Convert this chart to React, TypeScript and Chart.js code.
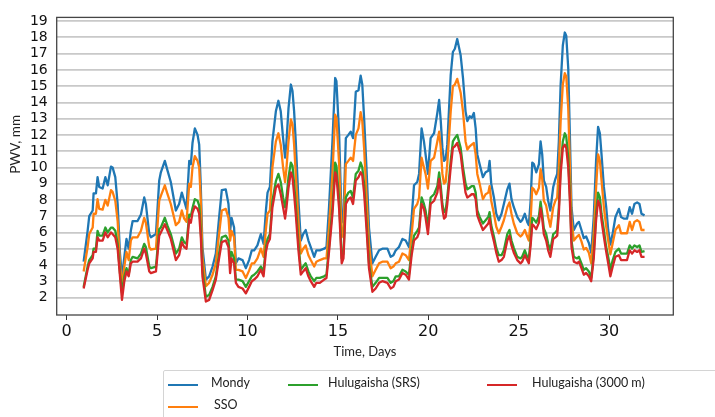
import React, { useEffect, useRef } from "react";
import { Chart, registerables } from "chart.js";

Chart.register(...registerables);

// Time (days)
const days = [
  0.94, 1.16, 1.25, 1.44, 1.49, 1.62, 1.71, 1.8, 1.99, 2.14, 2.27, 2.45, 2.54, 2.69, 2.82, 2.95, 3.06, 3.19, 3.31, 3.43,
  3.55, 3.65, 3.92, 4.11, 4.29, 4.38, 4.57, 4.66, 4.94, 5.12, 5.21, 5.43, 5.58, 5.76, 6.04, 6.22, 6.37, 6.5, 6.63, 6.78,
  6.87, 6.96, 7.09, 7.24, 7.33, 7.42, 7.51, 7.7, 7.88, 8.07, 8.25, 8.43, 8.58, 8.8, 8.95, 9.04, 9.12, 9.26, 9.36,
  9.5, 9.73, 9.91, 10.09, 10.24, 10.37, 10.55, 10.74, 10.89, 11.02, 11.11, 11.24, 11.38, 11.57, 11.71, 11.84, 11.97, 12.08, 12.16, 12.27,
  12.4, 12.49, 12.58, 12.67, 12.82, 12.95, 13.08, 13.22, 13.37, 13.5, 13.69, 13.81, 14.0, 14.24, 14.37, 14.51, 14.7, 14.85, 14.92, 15.07,
  15.21, 15.31, 15.44, 15.58, 15.71, 15.84, 15.99, 16.14, 16.26, 16.35, 16.45, 16.58, 16.72, 16.91, 17.09, 17.28, 17.46, 17.74, 17.92, 18.07,
  18.2, 18.38, 18.57, 18.75, 18.93, 19.08, 19.21, 19.39, 19.49, 19.63, 19.76, 19.85, 19.98, 20.13, 20.32, 20.5, 20.6, 20.69, 20.78, 20.87,
  20.96, 21.05, 21.24, 21.36, 21.47, 21.6,
  21.79, 21.92, 22.06, 22.16, 22.29, 22.4, 22.52, 22.62, 22.71, 22.84, 23.02, 23.17, 23.32, 23.39, 23.48, 23.63, 23.76, 23.9, 24.05, 24.18,
  24.37, 24.49, 24.6, 24.73, 24.92, 25.1, 25.19, 25.34, 25.47, 25.56, 25.66, 25.75, 25.84, 25.97, 26.12, 26.21, 26.3, 26.39, 26.52, 26.63,
  26.75, 26.91, 27.03, 27.13, 27.22, 27.32, 27.44, 27.55, 27.63, 27.74, 27.83, 27.92, 28.05, 28.23, 28.33, 28.47, 28.6, 28.73, 28.88, 29.01,
  29.15, 29.28, 29.39, 29.49, 29.58, 29.71, 29.84, 29.95, 30.07, 30.2, 30.35, 30.54, 30.66, 30.81, 30.99, 31.14, 31.27, 31.4, 31.55, 31.68,
  31.79, 31.96,
];

const mondy = [
  4.2, 6.1, 7.0, 7.35, 8.4, 8.4, 9.4, 8.8, 8.7, 9.4, 8.9, 10.05, 10.0, 9.4, 7.75, 4.7, 3.2, 4.5, 5.6, 5.0,
  6.1, 6.7, 6.7, 7.1, 8.15, 7.75, 5.9, 5.7, 5.9, 9.2, 9.7, 10.4, 9.8, 9.1, 7.35, 7.75, 8.45, 7.95, 7.45, 10.4,
  10.2, 11.5, 12.4, 12.0, 11.4, 8.8, 5.1, 3.1, 3.3, 3.9, 4.7, 6.9, 8.6, 8.65, 7.75, 6.1, 6.9, 6.3, 4.1,
  4.4, 4.3, 3.8, 4.3, 4.9, 4.9, 5.2, 5.9, 5.3, 7.35, 8.45, 8.8, 11.6, 13.45, 14.1, 13.45, 11.8, 10.6, 11.6, 13.65,
  15.1, 14.7, 13.45, 11.6, 7.95, 5.5, 5.9, 6.15, 5.5, 5.1, 4.5, 4.9, 4.9, 5.0, 5.1, 7.55, 11.6, 15.5, 15.3, 12.0,
  6.6, 7.0, 11.8, 12.0, 12.2, 11.8, 14.65, 14.75, 15.65, 15.1, 13.05, 10.0, 6.3, 4.1, 4.5, 4.9, 5.0, 5.0, 4.5, 4.6,
  4.9, 5.1, 5.6, 5.5, 5.1, 6.9, 8.9, 9.1, 9.6, 12.4, 11.6, 10.8, 9.6, 11.8, 12.1, 13.35, 14.15, 12.85, 11.2, 10.4,
  10.5, 11.4, 15.7, 17.1, 17.3, 17.9,
  16.9, 15.5, 13.45, 12.85, 13.15, 13.05, 13.35, 12.4, 10.8, 10.2, 9.4, 9.7, 9.8, 10.4, 9.0, 8.15, 7.15, 6.75, 7.15, 7.75,
  8.65, 9.0, 8.05, 7.55, 6.95, 6.65, 6.75, 7.15, 6.65, 6.45, 7.95, 10.3, 10.2, 9.7, 10.2, 11.6, 10.8, 9.2, 8.8, 7.95,
  7.35, 8.8, 9.3, 9.6, 11.6, 15.1, 17.5, 18.3, 18.1, 16.1, 12.0, 7.55, 6.15, 6.55, 6.65, 6.15, 5.65, 5.75, 5.35, 4.75,
  6.95, 10.4, 12.5, 12.1, 10.8, 8.8, 7.55, 6.15, 5.25, 5.95, 6.95, 7.45, 6.95, 6.85, 6.85, 7.55, 7.15, 7.75, 7.85, 7.75,
  7.15, 7.05,
];

const sso = [
  3.6, 5.1, 5.9, 6.3, 7.15, 7.15, 8.05, 7.45, 7.4, 8.0, 7.65, 8.6, 8.5, 7.95, 6.7, 4.1, 2.7, 3.9, 4.8, 4.3,
  5.5, 5.7, 5.7, 6.1, 6.9, 6.6, 5.1, 4.95, 5.0, 7.95, 8.25, 8.9, 8.35, 7.75, 6.45, 6.65, 7.35, 6.85, 6.65, 9.0,
  8.8, 10.0, 10.7, 10.4, 10.0, 7.95, 4.5, 2.7, 2.9, 3.4, 4.1, 5.9, 7.35, 7.45, 6.9, 5.5, 6.1, 5.7, 3.7,
  3.7, 3.6, 3.2, 3.65, 4.1, 4.1, 4.4, 5.0, 4.5, 6.2, 7.15, 7.35, 10.0, 11.6, 12.1, 11.4, 10.0, 9.1, 10.0, 11.6,
  12.95, 12.65, 11.4, 9.6, 6.7, 4.7, 5.0, 5.2, 4.6, 4.3, 3.9, 4.2, 4.3, 4.4, 4.4, 6.3, 9.6, 13.25, 13.05, 10.2,
  5.7, 6.0, 10.2, 10.4, 10.6, 10.4, 12.0, 12.4, 13.4, 12.85, 11.2, 8.35, 5.3, 3.3, 3.7, 4.1, 4.2, 4.2, 3.8, 3.9,
  4.1, 4.2, 4.7, 4.6, 4.3, 5.9, 7.45, 7.75, 8.15, 10.6, 10.0, 9.6, 8.7, 10.4, 10.6, 11.6, 12.2, 11.2, 9.6, 9.0,
  9.1, 10.2, 13.45, 15.0, 15.1, 15.45,
  14.6, 13.45, 11.6, 11.1, 11.3, 11.4, 11.5, 10.8, 9.6, 9.0, 8.05, 8.35, 8.45, 8.85, 7.95, 7.15, 6.35, 5.95, 6.35, 6.75,
  7.55, 7.85, 7.15, 6.55, 5.95, 5.75, 5.85, 6.15, 5.75, 5.5, 6.75, 8.75, 8.65, 8.35, 8.75, 9.9, 9.3, 7.95, 7.65, 6.95,
  6.35, 7.55, 7.95, 8.15, 10.0, 12.85, 15.1, 15.8, 15.6, 13.65, 10.2, 6.75, 5.5, 5.75, 5.85, 5.45, 4.95, 5.05, 4.75, 4.1,
  5.95, 8.75, 10.8, 10.4, 9.2, 7.55, 6.35, 5.5, 4.65, 5.35, 6.15, 6.45, 5.95, 5.95, 5.95, 6.65, 6.15, 6.65, 6.75, 6.65,
  6.15, 6.15,
];

const huluSrs = [
  2.65, 3.9, 4.3, 4.6, 5.0, 5.0, 6.1, 5.8, 5.8, 6.3, 6.0, 6.3, 6.3, 6.1, 5.3, 3.5, 2.3, 3.3, 3.8, 3.4,
  4.3, 4.5, 4.4, 4.7, 5.3, 5.1, 3.9, 3.8, 3.9, 6.2, 6.3, 6.9, 6.4, 5.9, 4.7, 5.0, 5.7, 5.4, 5.3, 7.1,
  7.0, 7.5, 8.05, 7.95, 7.65, 6.1, 3.7, 2.05, 2.15, 2.65, 3.3, 4.7, 5.7, 5.8, 5.5, 4.3, 4.8, 4.4, 3.1,
  3.1, 3.0, 2.65, 3.0, 3.3, 3.4, 3.6, 3.9, 3.6, 5.1, 5.6, 5.9, 7.95, 9.15, 9.6, 9.1, 8.15, 7.55, 8.15, 9.4,
  10.3, 10.1, 9.0, 7.75, 5.3, 3.7, 3.9, 4.1, 3.6, 3.3, 3.0, 3.2, 3.2, 3.3, 3.4, 5.1, 7.55, 10.3, 10.1, 7.95,
  4.4, 4.7, 8.15, 8.45, 8.55, 8.15, 9.6, 9.8, 10.3, 10.0, 9.0, 6.75, 4.1, 2.65, 2.9, 3.2, 3.2, 3.2, 2.9, 3.0,
  3.3, 3.3, 3.7, 3.6, 3.4, 4.9, 5.8, 6.1, 6.3, 8.15, 7.75, 7.35, 6.3, 8.15, 8.35, 8.85, 9.7, 8.85, 7.75, 7.25,
  7.35, 8.15, 10.4, 11.6, 11.8, 12.0,
  11.2, 10.0, 9.0, 8.65, 8.75, 8.85, 8.85, 8.45, 7.35, 6.95, 6.55, 6.75, 6.95, 7.25, 6.45, 5.75, 5.05, 4.6, 4.6, 4.9,
  5.9, 6.15, 5.5, 5.05, 4.5, 4.4, 4.5, 4.9, 4.5, 4.4, 5.5, 6.9, 6.8, 6.6, 7.0, 7.9, 7.15, 6.25, 5.9, 5.3,
  4.9, 5.9, 6.0, 6.15, 7.55, 10.0, 11.6, 12.1, 11.9, 10.6, 8.35, 5.5, 4.5, 4.4, 4.5, 4.1, 3.7, 3.8, 3.6, 3.2,
  4.7, 7.15, 8.45, 8.15, 7.15, 6.15, 5.1, 4.5, 3.7, 4.3, 4.8, 5.0, 4.7, 4.7, 4.7, 5.2, 5.0, 5.2, 5.1, 5.2,
  4.8, 4.85,
];

const hulu3000 = [
  2.55, 3.7, 4.1, 4.4, 4.8, 4.8, 5.7, 5.5, 5.5, 6.0, 5.7, 6.0, 5.9, 5.7, 5.0, 3.3, 1.85, 3.0, 3.6, 3.3,
  4.1, 4.2, 4.2, 4.4, 5.0, 4.7, 3.6, 3.5, 3.6, 5.8, 6.0, 6.5, 6.1, 5.6, 4.3, 4.6, 5.4, 5.1, 5.0, 6.8,
  6.6, 7.2, 7.6, 7.45, 7.15, 5.7, 3.3, 1.75, 1.85, 2.45, 3.1, 4.4, 5.4, 5.5, 5.1, 3.5, 4.4, 4.1, 2.9,
  2.65, 2.55, 2.25, 2.65, 3.0, 3.1, 3.3, 3.7, 3.3, 4.8, 5.3, 5.6, 7.55, 8.75, 8.95, 8.35, 7.55, 6.85, 7.55, 8.75,
  9.7, 9.4, 8.35, 7.15, 4.9, 3.4, 3.6, 3.8, 3.3, 3.0, 2.65, 2.9, 2.9, 3.1, 3.2, 4.8, 7.15, 9.7, 9.5, 7.45,
  4.1, 4.4, 7.75, 8.05, 8.15, 7.75, 9.2, 9.4, 9.7, 9.5, 8.45, 6.3, 3.8, 2.35, 2.55, 2.9, 3.0, 2.9, 2.55, 2.65,
  3.0, 3.1, 3.5, 3.4, 3.1, 4.6, 5.5, 5.7, 6.0, 7.75, 7.45, 6.9, 5.9, 7.75, 7.95, 8.45, 9.3, 8.45, 7.45, 6.85,
  6.95, 7.75, 10.0, 11.2, 11.3, 11.5,
  10.8, 9.6, 8.45, 8.15, 8.25, 8.35, 8.35, 8.05, 7.05, 6.65, 6.15, 6.35, 6.55, 6.85, 6.15, 5.45, 4.75, 4.2, 4.3, 4.5,
  5.5, 5.8, 5.2, 4.75, 4.3, 4.1, 4.2, 4.6, 4.3, 4.1, 5.2, 6.5, 6.4, 6.2, 6.6, 7.5, 6.85, 5.9, 5.5, 4.9,
  4.5, 5.6, 5.7, 5.8, 7.15, 9.6, 11.2, 11.4, 11.2, 10.0, 7.95, 5.1, 4.2, 4.1, 4.2, 3.8, 3.4, 3.5, 3.3, 3.0,
  4.4, 6.75, 7.95, 7.65, 6.75, 5.75, 4.8, 4.1, 3.3, 3.9, 4.5, 4.6, 4.3, 4.3, 4.3, 4.9, 4.7, 4.9, 4.8, 4.9,
  4.5, 4.5,
];

const seriesNames = ["Mondy", "SSO", "Hulugaisha (SRS)", "Hulugaisha (3000 m)"];
const seriesColors = ["#1f77b4", "#ff7f0e", "#2ca02c", "#d62728"];
const xTickValues = [0, 5, 10, 15, 20, 25, 30];
const yTickValues = [2, 3, 4, 5, 6, 7, 8, 9, 10, 11, 12, 13, 14, 15, 16, 17, 18, 19];
const xTitle = "Time, Days";
const yTitle = "PWV, mm";

const framePlugin = {
  id: "frameAndTitles",
  afterDraw(chart: any) {
    const { ctx, chartArea: a } = chart;
    ctx.save();
    ctx.strokeStyle = "#454545";
    ctx.lineWidth = 1.3;
    ctx.strokeRect(a.left, a.top, a.right - a.left, a.bottom - a.top);
    ctx.fillStyle = "#222";
    ctx.font = "13px Lato";
    ctx.textAlign = "center";
    ctx.textBaseline = "middle";
    ctx.fillText(xTitle, (a.left + a.right) / 2, a.bottom + 37);
    ctx.font = "13.5px Lato";
    ctx.translate(16, a.top + 127);
    ctx.rotate(-Math.PI / 2);
    ctx.fillText(yTitle, 0, 0);
    ctx.restore();
  },
};

export default function App() {
  const canvasRef = useRef<HTMLCanvasElement | null>(null);

  useEffect(() => {
    const canvas = canvasRef.current;
    if (!canvas) return;
    const series = [mondy, sso, huluSrs, hulu3000];
    const chart = new Chart(canvas, {
      type: "line",
      data: {
        datasets: series.map((vals, i) => ({
          label: seriesNames[i],
          data: days.map((d, j) => ({ x: d, y: vals[j] })),
          borderColor: seriesColors[i],
          backgroundColor: seriesColors[i],
          borderWidth: 2.3,
          pointRadius: 0,
          tension: 0,
          fill: false,
          borderJoinStyle: "round" as const,
          order: 3 - i,
        })),
      },
      options: {
        responsive: false,
        animation: false,
        events: [],
        layout: { padding: { left: 0, right: 41.7, top: 15.7, bottom: 57 } },
        plugins: { legend: { display: false }, tooltip: { enabled: false } },
        scales: {
          x: {
            type: "linear",
            min: -0.55,
            max: 33.55,
            afterBuildTicks: (s: any) => {
              s.ticks = xTickValues.map((v) => ({ value: v }));
            },
            afterFit: (s: any) => {
              s.height = 45;
            },
            border: { display: false },
            grid: {
              drawOnChartArea: false,
              drawTicks: true,
              tickLength: 5,
              color: "#333",
              lineWidth: 1,
            },
            ticks: {
              autoSkip: false,
              maxRotation: 0,
              padding: 2,
              color: "#111",
              font: { family: "DejaVu Sans", size: 16 },
            },
          },
          y: {
            type: "linear",
            min: 0.92,
            max: 19.23,
            afterBuildTicks: (s: any) => {
              s.ticks = yTickValues.map((v) => ({ value: v }));
            },
            afterFit: (s: any) => {
              s.width = 56.7;
            },
            border: { display: false },
            grid: {
              drawTicks: false,
              color: "#c9c9c9",
              lineWidth: 1.8,
            },
            ticks: {
              autoSkip: false,
              padding: 9,
              color: "#111",
              font: { family: "DejaVu Sans", size: 14 },
            },
          },
        },
      },
      plugins: [framePlugin],
    });
    return () => chart.destroy();
  }, []);

  const legendItem = (i: number, lineLeft: number, textLeft: number, top: number) => (
    <React.Fragment key={i}>
      <div
        style={{
          position: "absolute",
          left: lineLeft,
          top: top,
          width: 30,
          height: 0,
          borderTop: `2px solid ${seriesColors[i]}`,
        }}
      />
      <div
        style={{
          position: "absolute",
          left: textLeft,
          top: top - 9,
          fontFamily: "Lato",
          fontSize: 12.5,
          lineHeight: "16px",
          color: "#222",
          whiteSpace: "nowrap",
        }}
      >
        {seriesNames[i]}
      </div>
    </React.Fragment>
  );

  return (
    <div style={{ position: "fixed", left: 0, top: 0, width: 715, height: 417, background: "#fff", overflow: "hidden" }}>
      <canvas ref={canvasRef} width={715} height={417} style={{ position: "absolute", left: 0, top: 0 }} />
      <div
        style={{
          position: "absolute",
          left: 163,
          top: 370,
          width: 600,
          height: 60,
          border: "1px solid #d4d4d4",
          borderRadius: 2,
          boxSizing: "border-box",
        }}
      />
      {legendItem(0, 168, 211, 384)}
      {legendItem(2, 288, 328, 384)}
      {legendItem(3, 487, 532, 384)}
      {legendItem(1, 168, 214, 406)}
    </div>
  );
}
